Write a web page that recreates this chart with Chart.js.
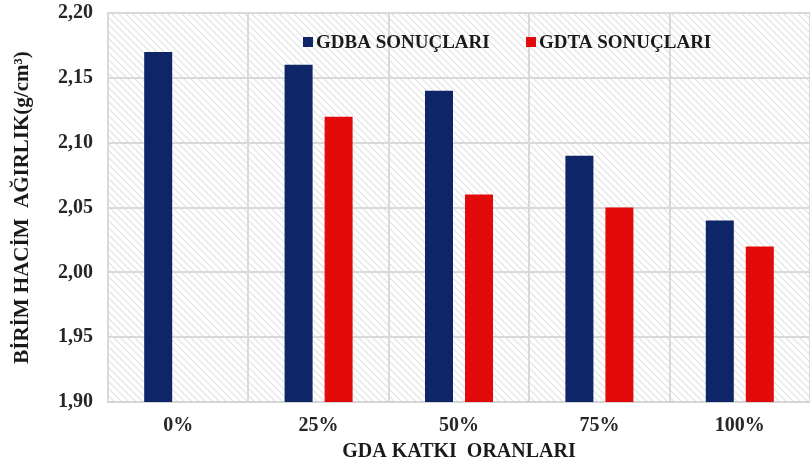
<!DOCTYPE html>
<html>
<head>
<meta charset="utf-8">
<script src="https://cdn.jsdelivr.net/npm/chart.js@4.4.1/dist/chart.umd.min.js"></script>
<style>
    html, body { margin: 0; padding: 0; background: #fff; overflow: hidden; }
    #wrap { width: 810px; height: 470px; }
</style>
</head>
<body>
<div id="wrap"><canvas id="chart" width="810" height="470"></canvas></div>
<script>
    "use strict";

    // Data
    var categories = ["0%", "25%", "50%", "75%", "100%"];
    var gdbaValues = [2.17, 2.16, 2.14, 2.09, 2.04];
    var gdtaValues = [null, 2.12, 2.06, 2.05, 2.02];
    var seriesNames = ["GDBA SONUÇLARI", "GDTA SONUÇLARI"];
    var yMin = 1.90, yMax = 2.20, yStep = 0.05;

    var NAVY = "#0e2567";
    var RED = "#e20a0a";
    var SERIF = "'Liberation Serif', 'Times New Roman', serif";

    // Hatched plot background
    function hatchPattern(ctx) {
        var s = 7;
        var c = document.createElement("canvas");
        c.width = s; c.height = s;
        var g = c.getContext("2d");
        g.fillStyle = "#ffffff";
        g.fillRect(0, 0, s, s);
        g.strokeStyle = "#e0e0e0";
        g.lineWidth = 1.1;
        for (var k = -1; k <= 1; k++) {
            g.beginPath();
            g.moveTo(-s, k * s - s);
            g.lineTo(2 * s, k * s + 2 * s);
            g.stroke();
        }
        return ctx.createPattern(c, "repeat");
    }

    var hatchBg = {
        id: "hatchBg",
        beforeDraw: function (chart) {
            var a = chart.chartArea, ctx = chart.ctx;
            ctx.save();
            ctx.fillStyle = hatchPattern(ctx);
            ctx.fillRect(a.left, a.top, a.right - a.left, a.bottom - a.top);
            ctx.restore();
        }
    };

    // Legend inside the plot area
    var innerLegend = {
        id: "innerLegend",
        afterDraw: function (chart) {
            var ctx = chart.ctx;
            var starts = [303, 526];
            var y = 42;
            ctx.save();
            ctx.font = "bold 19px " + SERIF;
            ctx.textBaseline = "middle";
            chart.data.datasets.forEach(function (ds, i) {
                var x = starts[i];
                ctx.fillStyle = ds.backgroundColor;
                ctx.fillRect(x, y - 5, 10, 10);
                ctx.fillStyle = "#1a1a1a";
                ctx.fillText(ds.label, x + 13, y + 1);
            });
            ctx.restore();
        }
    };

    var ctx = document.getElementById("chart").getContext("2d");
    var myChart = new Chart(ctx, {
        type: "bar",
        data: {
            labels: categories,
            datasets: [{
                    label: seriesNames[0],
                    data: gdbaValues,
                    backgroundColor: NAVY,
                    categoryPercentage: 0.57,
                    barPercentage: 0.7
                },
                {
                    label: seriesNames[1],
                    data: gdtaValues,
                    backgroundColor: RED,
                    categoryPercentage: 0.57,
                    barPercentage: 0.7
                }
            ]
        },
        options: {
            responsive: false,
            animation: false,
            layout: { padding: { top: 13, right: 0, bottom: 0, left: 0 } },
            plugins: {
                legend: { display: false },
                tooltip: { enabled: false }
            },
            scales: {
                x: {
                    grid: { color: "#d9d9d9", lineWidth: 2, drawTicks: false },
                    border: { color: "#d4d4d4", width: 2 },
                    ticks: {
                        padding: 12,
                        color: "#262626",
                        font: { family: SERIF, size: 20, weight: "bold" }
                    },
                    title: {
                        display: true,
                        text: "GDA KATKI  ORANLARI",
                        color: "#1a1a1a",
                        padding: { top: 0, bottom: 6 },
                        font: { family: SERIF, size: 20, weight: "bold" }
                    },
                    afterFit: function (s) { s.height = 68; }
                },
                y: {
                    min: yMin,
                    max: yMax,
                    grid: { color: "#d9d9d9", lineWidth: 2, drawTicks: false },
                    border: { color: "#d9d9d9", width: 2 },
                    ticks: {
                        stepSize: yStep,
                        padding: 15,
                        color: "#262626",
                        font: { family: SERIF, size: 20, weight: "bold" },
                        callback: function (v) { return Number(v).toFixed(2).replace(".", ","); }
                    },
                    title: {
                        display: true,
                        text: "BİRİM HACİM  AĞIRLIK(g/cm³)",
                        color: "#1a1a1a",
                        padding: { top: 10, bottom: 0 },
                        font: { family: SERIF, size: 21, weight: "bold" }
                    },
                    afterFit: function (s) {
                        s.width = 108;
                        s.paddingTop = 0;
                        s.paddingBottom = 0;
                    }
                }
            }
        },
        plugins: [hatchBg, innerLegend]
    });
</script>
</body>
</html>
